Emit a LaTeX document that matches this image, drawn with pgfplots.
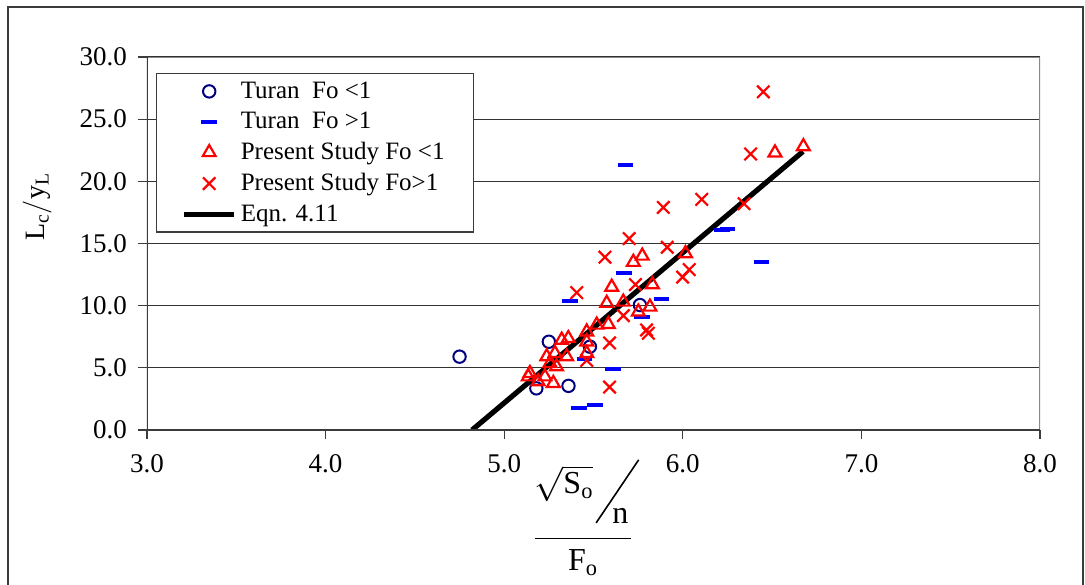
\documentclass[border=0pt]{standalone}
\usepackage{fontspec}
\setmainfont{Liberation Serif}
\usepackage{graphicx}
\usepackage{pgfplots}
\pgfplotsset{compat=1.18}
\definecolor{navyc}{RGB}{0,0,128}
\definecolor{blu}{RGB}{0,0,255}
\definecolor{rd}{RGB}{255,0,0}
\definecolor{frame}{RGB}{60,60,60}
\definecolor{bord}{RGB}{136,136,136}
\begin{document}
\begin{tikzpicture}
\begin{axis}[
  at={(0pt,0pt)}, anchor=south west,
  scale only axis, width=446.5pt, height=186.5pt,
  xmin=3, xmax=8, ymin=0, ymax=30,
  xtick={3,4,5,6,7,8}, ytick={0,5,10,15,20,25,30},
  tick align=outside, major tick length=4.5pt,
  tick style={frame, line width=0.6pt},
  xtick pos=bottom, ytick pos=left,
  ymajorgrids, grid style={black!80, line width=0.6pt},
  axis line style={draw=none},
  /pgf/number format/fixed,
  /pgf/number format/fixed zerofill,
  /pgf/number format/precision=1,
  /pgf/number format/assume math mode=true,
  tick label style={font=\fontsize{13.5}{16}\selectfont},
  xticklabel style={yshift=-4pt},
  yticklabel style={xshift=-2pt},
  ylabel={$\mathrm{L_c/y_L}$},
  ylabel style={at={(axis description cs:-0.123,0.598)}, anchor=center, font=\fontsize{14}{16}\selectfont},
  legend cell align=left,
  legend image code/.code={\draw[mark repeat=2,mark phase=2,#1] plot coordinates {(0pt,0pt) (12.5pt,0pt) (25pt,0pt)};},
  legend style={at={(axis description cs:0.0101,0.957)}, anchor=north west,
    draw=frame, line width=0.6pt, fill=white,
    font=\fontsize{12.5}{15}\selectfont,
    inner xsep=12.5pt, inner ysep=2pt, row sep=1.4pt,
    /tikz/every even column/.append style={column sep=2pt}},
]
\addplot[only marks, mark=o, mark size=3.1pt, draw=navyc, line width=1pt]
coordinates {(4.75,5.9) (5.25,7.1) (5.18,3.35) (5.36,3.55) (5.48,6.7) (5.76,10.05)};
\addlegendentry{Turan\ \ Fo <1}
\addplot[only marks, mark=-, mark size=3.9pt, draw=blu, line width=2pt]
coordinates {(5.37,10.4) (5.67,12.6) (5.88,10.55) (5.77,9.1) (5.45,5.7) (5.61,4.9)
 (5.42,1.75) (5.51,2.05) (5.68,21.35) (6.22,16.1) (6.25,16.2) (6.44,13.5)};
\addlegendentry{Turan\ \ Fo >1}
\addplot[only marks, mark=triangle, mark size=3.7pt, draw=rd, line width=1.1pt]
coordinates {(6.675,22.8) (6.516,22.3) (6.015,14.2) (5.773,14.0) (5.723,13.5)
 (5.602,11.5) (5.83,11.7) (5.574,10.2) (5.667,10.3) (5.751,9.5) (5.816,9.9)
 (5.583,8.5) (5.518,8.45) (5.462,7.9) (5.322,7.24) (5.359,7.37) (5.462,7.1)
 (5.238,5.9) (5.284,6.17) (5.35,5.9) (5.462,6.17) (5.256,5.37) (5.293,5.1)
 (5.144,4.56) (5.228,4.29) (5.19,3.89) (5.275,3.76) (5.135,4.29)};
\addlegendentry{Present Study Fo <1}
\addplot[only marks, mark=x, mark size=4.4pt, draw=rd, line width=1.1pt]
coordinates {(6.451,27.2) (6.38,22.2) (6.343,18.2) (6.106,18.55) (5.891,17.9)
 (5.7,15.4) (5.564,13.9) (5.913,14.7) (6.036,12.9) (5.999,12.3) (5.735,11.7)
 (5.406,11.05) (5.667,9.2) (5.797,8.05) (5.807,7.78) (5.59,7.0) (5.462,5.6) (5.59,3.45)};
\addlegendentry{Present Study Fo>1}
\addplot[black, line width=2.6pt, no marks] coordinates {(4.82,0) (6.673,22.4)};
\addlegendentry{Eqn. 4.11}
\draw[bord, line width=1pt] (rel axis cs:0,1) -- (rel axis cs:1,1) -- (rel axis cs:1,0);
\draw[frame, line width=1pt] (rel axis cs:0,1) -- (rel axis cs:0,0) -- (rel axis cs:1,0);
\end{axis}
\node[anchor=north, font=\fontsize{16}{19}\selectfont, inner sep=0pt] at (218pt,-14.5pt)
 {$\displaystyle\frac{\raisebox{15pt}{$\sqrt{\mathrm{S}_{\mathrm{o}}}$}\kern1pt\rotatebox{56}{\rule{38pt}{0.8pt}}\kern-13.5pt\mathrm{n}\kern1.5pt}{\mathrm{F}_{\mathrm{o}}}$};
\draw[frame, line width=0.9pt] (-69.5pt,-200pt) rectangle (468pt,211.5pt);
\pgfresetboundingbox
\path (-73.5pt,-77pt) rectangle (469pt,215pt);
\end{tikzpicture}
\end{document}
